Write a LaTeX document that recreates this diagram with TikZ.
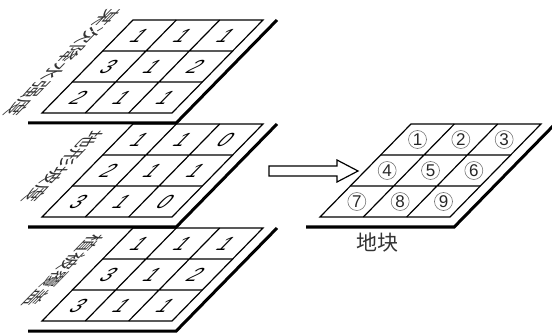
\documentclass[tikz,border=0pt]{standalone}
\usepackage{fontspec}
\setmainfont{Liberation Sans}
\newfontfamily\cjk{Noto Sans CJK SC}
\begin{document}
\begin{tikzpicture}[x=1pt,y=1pt,
  gridline/.style={line width=1.2pt},
  thickedge/.style={line width=3pt, line join=miter},
  digit/.style={transform shape, font=\fontsize{19}{19}\selectfont, inner sep=0pt},
  layerlabel/.style={transform shape, rotate=-90, font=\cjk\fontsize{18}{18}\selectfont, text=black!80, inner sep=0pt},
  circnum/.style={circle, draw=black!55, line width=0.6pt, inner sep=0pt, minimum size=18pt, font=\fontsize{17}{17}\selectfont, text=black!85},
  layer/.style={xslant=0.9785}
]
\useasboundingbox (0,0) rectangle (552,-334);

% ---------- layer 1 ----------
\begin{scope}[shift={(42,-113)}, layer]
  \draw[gridline] (0,0) rectangle (130,93);
  \draw[gridline] (43.33,0) -- (43.33,93) (86.67,0) -- (86.67,93)
                  (0,31) -- (130,31) (0,62) -- (130,62);
  \draw[thickedge] (-4,-10) -- (144,-10) -- (144,93);
  \node[digit] (a11) at (21.67,77.5) {1};
  \node[digit] (a12) at (65,77.5) {1};
  \node[digit] (a13) at (108.33,77.5) {1};
  \node[digit] (a21) at (21.67,46.5) {3};
  \node[digit] (a22) at (65,46.5) {1};
  \node[digit] (a23) at (108.33,46.5) {2};
  \node[digit] (a31) at (21.67,15.5) {2};
  \node[digit] (a32) at (65,15.5) {1};
  \node[digit] (a33) at (108.33,15.5) {1};
  \node[layerlabel] (lab1) at (-28,50) {某次降水强度};
\end{scope}

% ---------- layer 2 ----------
\begin{scope}[shift={(42,-217)}, layer]
  \draw[gridline] (0,0) rectangle (130,93);
  \draw[gridline] (43.33,0) -- (43.33,93) (86.67,0) -- (86.67,93)
                  (0,31) -- (130,31) (0,62) -- (130,62);
  \draw[thickedge] (-4,-10) -- (144,-10) -- (144,93);
  \node[digit] (b11) at (21.67,77.5) {1};
  \node[digit] (b12) at (65,77.5) {1};
  \node[digit] (b13) at (108.33,77.5) {0};
  \node[digit] (b21) at (21.67,46.5) {2};
  \node[digit] (b22) at (65,46.5) {1};
  \node[digit] (b23) at (108.33,46.5) {1};
  \node[digit] (b31) at (21.67,15.5) {3};
  \node[digit] (b32) at (65,15.5) {1};
  \node[digit] (b33) at (108.33,15.5) {0};
  \node[layerlabel] (lab2) at (-28,50) {地形坡度};
\end{scope}

% ---------- layer 3 ----------
\begin{scope}[shift={(42,-321)}, layer]
  \draw[gridline] (0,0) rectangle (130,93);
  \draw[gridline] (43.33,0) -- (43.33,93) (86.67,0) -- (86.67,93)
                  (0,31) -- (130,31) (0,62) -- (130,62);
  \draw[thickedge] (-4,-10) -- (144,-10) -- (144,93);
  \node[digit] (c11) at (21.67,77.5) {1};
  \node[digit] (c12) at (65,77.5) {1};
  \node[digit] (c13) at (108.33,77.5) {1};
  \node[digit] (c21) at (21.67,46.5) {3};
  \node[digit] (c22) at (65,46.5) {1};
  \node[digit] (c23) at (108.33,46.5) {2};
  \node[digit] (c31) at (21.67,15.5) {3};
  \node[digit] (c32) at (65,15.5) {1};
  \node[digit] (c33) at (108.33,15.5) {1};
  \node[layerlabel] (lab3) at (-28,50) {植被覆盖};
\end{scope}

% ---------- result layer ----------
\begin{scope}[shift={(320,-217)}, layer]
  \draw[gridline] (0,0) rectangle (130,93);
  \draw[gridline] (43.33,0) -- (43.33,93) (86.67,0) -- (86.67,93)
                  (0,31) -- (130,31) (0,62) -- (130,62);
  \draw[thickedge] (-4,-10) -- (144,-10) -- (144,93);
  \node[circnum] (r1) at (21.67,77.5) {1};
  \node[circnum] (r2) at (65,77.5) {2};
  \node[circnum] (r3) at (108.33,77.5) {3};
  \node[circnum] (r4) at (21.67,46.5) {4};
  \node[circnum] (r5) at (65,46.5) {5};
  \node[circnum] (r6) at (108.33,46.5) {6};
  \node[circnum] (r7) at (21.67,15.5) {7};
  \node[circnum] (r8) at (65,15.5) {8};
  \node[circnum] (r9) at (108.33,15.5) {9};
\end{scope}

\node[font=\cjk\fontsize{21}{21}\selectfont, text=black!80] (dikuai) at (377,-243) {地块};

% hollow arrow
\draw[line width=1.2pt, fill=white, line join=miter]
  (269,-166) -- (337,-166) -- (337,-160) -- (358,-171) -- (337,-182) -- (337,-176) -- (269,-176) -- cycle;
\end{tikzpicture}
\end{document}
